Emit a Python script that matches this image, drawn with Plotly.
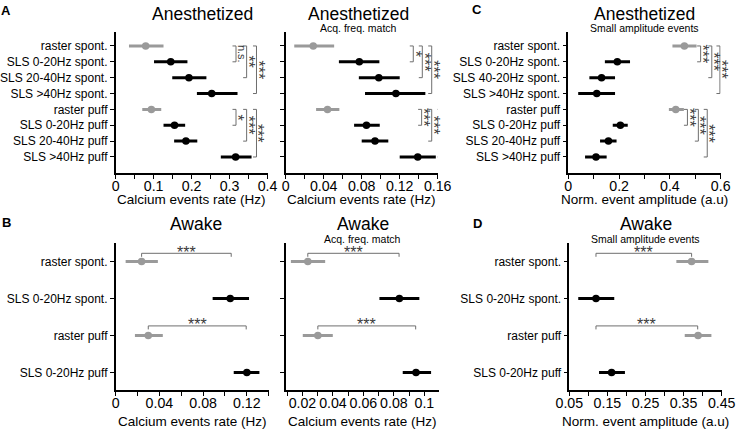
import plotly.graph_objects as go

# ---------------- data ----------------
A_labels = ["raster spont.", "SLS 0-20Hz spont.", "SLS 20-40Hz spont.", "SLS >40Hz spont.",
            "raster puff", "SLS 0-20Hz puff", "SLS 20-40Hz puff", "SLS >40Hz puff"]
C_labels = ["raster spont.", "SLS 0-20Hz spont.", "SLS 40-20Hz spont.", "SLS >40Hz spont.",
            "raster puff", "SLS 0-20Hz puff", "SLS 20-40Hz puff", "SLS >40Hz puff"]
B_labels = ["raster spont.", "SLS 0-20Hz spont.", "raster puff", "SLS 0-20Hz puff"]

A1_mean = [0.079, 0.145, 0.193, 0.253, 0.094, 0.155, 0.185, 0.316]
A1_low = [0.035, 0.101, 0.149, 0.214, 0.070, 0.126, 0.154, 0.277]
A1_high = [0.126, 0.189, 0.239, 0.321, 0.120, 0.183, 0.215, 0.358]

A2_mean = [0.029, 0.0775, 0.098, 0.116, 0.044, 0.085, 0.094, 0.139]
A2_low = [0.009, 0.056, 0.077, 0.0835, 0.032, 0.072, 0.080, 0.120]
A2_high = [0.051, 0.0986, 0.120, 0.147, 0.0565, 0.099, 0.108, 0.158]

C_mean = [0.457, 0.193, 0.131, 0.112, 0.423, 0.205, 0.158, 0.109]
C_low = [0.410, 0.144, 0.083, 0.039, 0.396, 0.175, 0.125, 0.066]
C_high = [0.505, 0.243, 0.184, 0.184, 0.455, 0.234, 0.190, 0.151]

B1_mean = [0.0237, 0.1048, 0.0298, 0.120]
B1_low = [0.0091, 0.0887, 0.0176, 0.108]
B1_high = [0.0386, 0.122, 0.0431, 0.1315]

B2_mean = [0.0235, 0.0836, 0.0301, 0.0945]
B2_low = [0.0124, 0.0705, 0.0202, 0.0858]
B2_high = [0.0349, 0.0967, 0.0399, 0.1044]

D_mean = [0.371, 0.120, 0.388, 0.161]
D_low = [0.331, 0.0735, 0.353, 0.128]
D_high = [0.415, 0.168, 0.423, 0.196]

A_is_raster = [True, False, False, False, True, False, False, False]
B_is_raster = [True, False, True, False]

# significance brackets: (row_from, row_to, x_position, label)
A1_sig = [(0, 1, 0.317, "n.s."), (0, 2, 0.345, "**"), (0, 3, 0.371, "***"),
          (4, 5, 0.317, "*"), (4, 6, 0.345, "***"), (4, 7, 0.371, "***")]
A2_sig = [(0, 1, 0.1343, "*"), (0, 2, 0.1438, "***"), (0, 3, 0.1537, "***"),
          (4, 5, 0.1431, "***"), (4, 6, 0.1537, "***"), (4, 7, 0.1635, "***")]
C_sig = [(0, 1, 0.521, "***"), (0, 2, 0.565, "***"), (0, 3, 0.597, "***"),
         (4, 5, 0.469, "***"), (4, 6, 0.512, "***"), (4, 7, 0.547, "***")]
# horizontal brackets: (row, x_from, x_to, label)
B1_sig = [(0, 0.0237, 0.1057, "***"), (2, 0.0298, 0.1194, "***")]
B2_sig = [(0, 0.0235, 0.0834, "***"), (2, 0.0301, 0.0943, "***")]
D_sig = [(0, 0.120, 0.371, "***"), (2, 0.120, 0.387, "***")]

# ---------------- style ----------------
W, H = 736, 430
FONT = "Arial, Liberation Sans, sans-serif"
GREY = "#9a9a9a"
BLACK = "#000000"
BR = "#6e6e6e"
STAR = "#3a3a3a"
STAR_FS = 16

fig = go.Figure()

panels = [
    dict(k="", mean=A1_mean, low=A1_low, high=A1_high, ras=A_is_raster, lab=A_labels,
         xd=(115.7, 267.5), yd=(32, 173.3), xr=[0, 0.4], yr=[8.03, -0.88],
         dt=0.1, mdt=0.05, show=True, tickvals=None),
    dict(k="2", mean=A2_mean, low=A2_low, high=A2_high, ras=A_is_raster, lab=A_labels,
         xd=(285.7, 437.7), yd=(32, 173.3), xr=[0, 0.16], yr=[8.03, -0.88],
         dt=0.04, mdt=0.02, show=False, tickvals=None),
    dict(k="3", mean=C_mean, low=C_low, high=C_high, ras=A_is_raster, lab=C_labels,
         xd=(568.3, 720.7), yd=(32, 173.3), xr=[0, 0.6], yr=[8.03, -0.88],
         dt=0.2, mdt=0.1, show=True, tickvals=None),
    dict(k="4", mean=B1_mean, low=B1_low, high=B1_high, ras=B_is_raster, lab=B_labels,
         xd=(115.7, 268.7), yd=(243.3, 390), xr=[0, 0.14], yr=[3.47, -0.49],
         dt=0.04, mdt=0.02, show=True, tickvals=None),
    dict(k="5", mean=B2_mean, low=B2_low, high=B2_high, ras=B_is_raster, lab=B_labels,
         xd=(285.7, 439), yd=(243.3, 390), xr=[0.009, 0.1096], yr=[3.47, -0.49],
         dt=None, mdt=0.01, show=False, tickvals=[0.02, 0.04, 0.06, 0.08, 0.1],
         ticktext=["0.02", "0.04", "0.06", "0.08", "0.1"]),
    dict(k="6", mean=D_mean, low=D_low, high=D_high, ras=B_is_raster, lab=B_labels,
         xd=(569.3, 721.7), yd=(243.3, 390), xr=[0.05, 0.45], yr=[3.47, -0.49],
         dt=None, mdt=0.05, show=True, tickvals=[0.05, 0.15, 0.25, 0.35, 0.45],
         ticktext=["0.05", "0.15", "0.25", "0.35", "0.45"]),
]

layout_axes = {}
for p in panels:
    k = p["k"]
    xa = "x" + k
    ya = "y" + k
    n = len(p["mean"])
    ys = list(range(n))
    for i in range(n):
        col = GREY if p["ras"][i] else BLACK
        fig.add_trace(go.Scatter(
            x=[p["mean"][i]], y=[ys[i]], mode="markers",
            marker=dict(color=col, size=7.5),
            error_x=dict(type="data", symmetric=False,
                         array=[p["high"][i] - p["mean"][i]],
                         arrayminus=[p["mean"][i] - p["low"][i]],
                         color=col, thickness=3, width=0),
            xaxis=xa, yaxis=ya, showlegend=False, cliponaxis=False,
            hoverinfo="x+y"))
    xaxis = dict(
        domain=[p["xd"][0] / W, p["xd"][1] / W], range=p["xr"], anchor=ya,
        automargin=False,
        showline=True, linecolor="black", linewidth=1.6, showgrid=False, zeroline=False,
        ticks="outside", ticklen=4, tickwidth=1.3, tickcolor="black",
        ticklabelstandoff=-5,
        tickfont=dict(family=FONT, size=14.2, color="black"),
        minor=dict(dtick=p["mdt"], ticks="outside", ticklen=4, tickwidth=1.3,
                   tickcolor="black", showgrid=False),
    )
    if p["tickvals"] is None:
        xaxis.update(dtick=p["dt"], tick0=0, tickformat="~g")
    else:
        xaxis.update(tickvals=p["tickvals"], ticktext=p["ticktext"])
        xaxis["minor"]["tick0"] = 0
    yaxis = dict(
        domain=[1 - p["yd"][1] / H, 1 - p["yd"][0] / H], range=p["yr"], anchor=xa,
        automargin=False,
        showline=True, linecolor="black", linewidth=1.6, showgrid=False, zeroline=False,
        tickvals=ys, ticktext=p["lab"], showticklabels=p["show"],
        ticks="outside", ticklen=4, tickwidth=1.3, tickcolor="black",
        tickfont=dict(family=FONT, size=12, color="black"),
    )
    layout_axes["xaxis" + k] = xaxis
    layout_axes["yaxis" + k] = yaxis
    p["xpx"] = (p["xd"][1] - p["xd"][0]) / (p["xr"][1] - p["xr"][0])
    p["ypx"] = (p["yd"][1] - p["yd"][0]) / abs(p["yr"][0] - p["yr"][1])

shapes = []
annotations = []

# vertical brackets for A and C, labels rotated beside the bracket
for p, sig in [(panels[0], A1_sig), (panels[1], A2_sig), (panels[2], C_sig)]:
    xa = "x" + p["k"]
    ya = "y" + p["k"]
    tl = 3.5 / p["xpx"]
    for (i0, i1, xb, lab) in sig:
        shapes.append(dict(type="path", xref=xa, yref=ya,
                           path=f"M {xb - tl} {i0} L {xb} {i0} L {xb} {i1} L {xb - tl} {i1}",
                           line=dict(color=BR, width=1)))
        ymid = (i0 + i1) / 2
        is_star = lab.strip("*") == ""
        annotations.append(dict(
            x=xb, y=ymid, xref=xa, yref=ya, text=lab, textangle=90,
            showarrow=False, xanchor="center", yanchor="middle",
            xshift=(1.8 if is_star else 6), opacity=0.99,
            font=dict(family=FONT, size=(STAR_FS if is_star else 11), color=STAR)))

# horizontal brackets for B and D
for p, sig in [(panels[3], B1_sig), (panels[4], B2_sig), (panels[5], D_sig)]:
    xa = "x" + p["k"]
    ya = "y" + p["k"]
    tl = 3.5 / p["ypx"]
    for (row, x0, x1, lab) in sig:
        yb = row - (0.22 if row == 0 else 0.26)
        shapes.append(dict(type="path", xref=xa, yref=ya,
                           path=f"M {x0} {yb + tl} L {x0} {yb} L {x1} {yb} L {x1} {yb + tl}",
                           line=dict(color=BR, width=1)))
        annotations.append(dict(x=(x0 + x1) / 2, y=yb, xref=xa, yref=ya, text=lab,
                                showarrow=False, xanchor="center", yanchor="middle",
                                yshift=1,
                                font=dict(family=FONT, size=STAR_FS, color=STAR)))


def ann(text, xpx, ypx, size, bold=False):
    annotations.append(dict(
        x=xpx / W, y=1 - ypx / H, xref="paper", yref="paper",
        text=f"<b>{text}</b>" if bold else text, showarrow=False,
        xanchor="center", yanchor="middle",
        font=dict(family=FONT, size=size, color="black")))


# titles
ann("Anesthetized", 202, 14, 17.5)
ann("Anesthetized", 358, 14, 17.5)
ann("Acq. freq. match", 358, 28.5, 10.5)
ann("Anesthetized", 644.5, 14, 17.5)
ann("Small amplitude events", 644.5, 28.5, 10.5)
ann("Awake", 196, 223.5, 17.5)
ann("Awake", 362.5, 223.5, 17.5)
ann("Acq. freq. match", 362.5, 238.5, 10.5)
ann("Awake", 645.5, 223.5, 17.5)
ann("Small amplitude events", 645.5, 238.5, 10.5)
# x-axis titles
ann("Calcium events rate (Hz)", 191.6, 200, 13.5)
ann("Calcium events rate (Hz)", 361.7, 200, 13.5)
ann("Norm. event amplitude (a.u)", 644.5, 200, 13.5)
ann("Calcium events rate (Hz)", 192, 421.5, 13.5)
ann("Calcium events rate (Hz)", 362.3, 421.5, 13.5)
ann("Norm. event amplitude (a.u)", 645.5, 421.5, 13.5)
# panel letters
ann("A", 6, 11, 13, bold=True)
ann("B", 6, 222.5, 13, bold=True)
ann("C", 477, 9.5, 13, bold=True)
ann("D", 477, 223.5, 13, bold=True)

fig.update_layout(
    width=W, height=H, margin=dict(l=0, r=0, t=0, b=0, autoexpand=False),
    autosize=False,
    paper_bgcolor="white", plot_bgcolor="white",
    font=dict(family=FONT, color="black"),
    shapes=shapes, annotations=annotations, showlegend=False,
    **layout_axes)

fig.write_html("out.html", config={"responsive": False, "displayModeBar": False},
               post_script="document.body.style.margin='0';document.body.style.overflow='hidden';")
